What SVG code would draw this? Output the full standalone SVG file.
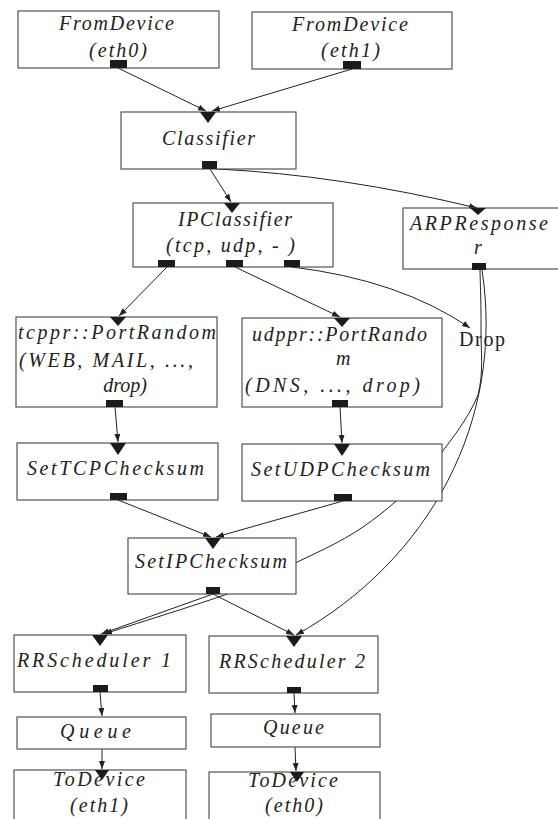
<svg xmlns="http://www.w3.org/2000/svg" width="558" height="819" viewBox="0 0 558 819">
<style>
.box{fill:#fff;stroke:#444;stroke-width:1.1}
.port{fill:#1e1a1a}
.in{fill:#1e1a1a}
.lbl{font-family:"Liberation Serif","Times New Roman",serif;font-style:italic;font-size:20px;fill:#222}
.up{font-family:"Liberation Serif","Times New Roman",serif;font-size:20px;fill:#222}
.edge{fill:none;stroke:#222;stroke-width:1}
</style>
<defs>
<marker id="arr" markerUnits="userSpaceOnUse" markerWidth="9" markerHeight="7" refX="8" refY="3" orient="auto">
<path d="M0,0 L8,3 L0,6 z" fill="#222"/>
</marker>
</defs>
<g id="connectors">
<path class="edge" marker-end="url(#arr)" d="M118,68 L206,111"/>
<path class="edge" marker-end="url(#arr)" d="M352,69 L212,111"/>
<path class="edge" marker-end="url(#arr)" d="M210,169 L231,202"/>
<path class="edge" marker-end="url(#arr)" d="M217,169 Q340,175 477,208"/>
<path class="edge" marker-end="url(#arr)" d="M167,267 L119,316"/>
<path class="edge" marker-end="url(#arr)" d="M235,267 L340,317"/>
<path class="edge" marker-end="url(#arr)" d="M292,267 Q400,280 470,328"/>
<path class="edge" marker-end="url(#arr)" d="M115,407 L118,442"/>
<path class="edge" marker-end="url(#arr)" d="M340,407 L342,443"/>
<path class="edge" marker-end="url(#arr)" d="M118,500 L211,537"/>
<path class="edge" marker-end="url(#arr)" d="M343,501 L216,537"/>
<path class="edge" marker-end="url(#arr)" d="M213,594 L101,634"/>
<path class="edge" marker-end="url(#arr)" d="M213,594 L294,635"/>
<path class="edge" marker-end="url(#arr)" d="M480,270 C480.2,280 481.3,309 481,330 C480.7,351 484,372 478,395 C469,418 446,448 427,470 C408,492 386,511 363,527 C340,543 309,556 287,567 C265,578 260,582 230,593 C200,604 125,627 104,634"/>
<path class="edge" marker-end="url(#arr)" d="M482,270 C505,420 430,560 296,635"/>
<path class="edge" marker-end="url(#arr)" d="M100,692 L102,716"/>
<path class="edge" marker-end="url(#arr)" d="M294,693 L295,713"/>
<path class="edge" marker-end="url(#arr)" d="M102,749 L102,769"/>
<path class="edge" marker-end="url(#arr)" d="M295,747 L296,771"/>
</g>
<g id="fromdevice0">
<rect class="box" x="18" y="11" width="201" height="57"/>
<text class="lbl" x="59" y="30" textLength="115" lengthAdjust="spacing">FromDevice</text>
<text class="lbl" x="89" y="57" textLength="58" lengthAdjust="spacing">(eth0)</text>
<rect class="port" x="110" y="60" width="17" height="8"/>
</g>
<g id="fromdevice1">
<rect class="box" x="252" y="12" width="200" height="57"/>
<text class="lbl" x="292" y="31" textLength="116" lengthAdjust="spacing">FromDevice</text>
<text class="lbl" x="321" y="57" textLength="59" lengthAdjust="spacing">(eth1)</text>
<rect class="port" x="343" y="61" width="18" height="8"/>
</g>
<g id="classifier">
<rect class="box" x="121" y="112" width="175" height="57"/>
<polygon class="in" points="200,112 216,112 208,123"/>
<text class="lbl" x="162" y="145" textLength="93" lengthAdjust="spacing">Classifier</text>
<rect class="port" x="202" y="161" width="15" height="8"/>
</g>
<g id="ipclassifier">
<rect class="box" x="133" y="203" width="200" height="64"/>
<polygon class="in" points="224,203 240,203 232,213"/>
<text class="lbl" x="178" y="226" textLength="114" lengthAdjust="spacing">IPClassifier</text>
<text class="lbl" x="166" y="252" textLength="129" lengthAdjust="spacing">(tcp, udp, - )</text>
<rect class="port" x="158" y="260" width="17" height="7"/>
<rect class="port" x="226" y="260" width="17" height="7"/>
<rect class="port" x="284" y="260" width="16" height="7"/>
</g>
<g id="arpresponser">
<rect class="box" x="403" y="208" width="156" height="61"/>
<polygon class="in" points="470,208 486,208 478,215"/>
<text class="lbl" x="410" y="230" textLength="138" lengthAdjust="spacing">ARPResponse</text>
<text class="lbl" x="474" y="254">r</text>
<rect class="port" x="472" y="263" width="14" height="7"/>
</g>
<g id="tcppr">
<rect class="box" x="16" y="317" width="201" height="90"/>
<polygon class="in" points="110,317 126,317 118,326"/>
<text class="lbl" x="18" y="339" textLength="198" lengthAdjust="spacing">tcppr::PortRandom</text>
<text class="lbl" x="19" y="367" textLength="174" lengthAdjust="spacing">(WEB, MAIL, ...,</text>
<text class="lbl" x="125" y="392" text-anchor="middle">drop)</text>
<rect class="port" x="106" y="400" width="17" height="7"/>
</g>
<g id="udppr">
<rect class="box" x="242" y="318" width="200" height="89"/>
<polygon class="in" points="334,318 350,318 342,327"/>
<text class="lbl" x="252" y="341" textLength="175" lengthAdjust="spacing">udppr::PortRando</text>
<text class="lbl" x="336" y="365">m</text>
<text class="lbl" x="245" y="392" textLength="175" lengthAdjust="spacing">(DNS, ..., drop)</text>
<rect class="port" x="332" y="400" width="16" height="7"/>
</g>
<g id="drop">
<text class="up" x="459" y="346" textLength="46" lengthAdjust="spacing">Drop</text>
</g>
<g id="settcpchecksum">
<rect class="box" x="17" y="443" width="201" height="57"/>
<polygon class="in" points="110,443 126,443 118,455"/>
<text class="lbl" x="27" y="475" textLength="177" lengthAdjust="spacing">SetTCPChecksum</text>
<rect class="port" x="110" y="493" width="17" height="7"/>
</g>
<g id="setudpchecksum">
<rect class="box" x="242" y="444" width="200" height="57"/>
<polygon class="in" points="334,444 350,444 342,456"/>
<text class="lbl" x="251" y="476" textLength="179" lengthAdjust="spacing">SetUDPChecksum</text>
<rect class="port" x="334" y="494" width="18" height="7"/>
</g>
<g id="setipchecksum">
<rect class="box" x="128" y="538" width="168" height="56"/>
<polygon class="in" points="205,538 221,538 213,549"/>
<text class="lbl" x="135" y="568" textLength="152" lengthAdjust="spacing">SetIPChecksum</text>
<rect class="port" x="206" y="587" width="14" height="7"/>
</g>
<g id="rrscheduler1">
<rect class="box" x="14" y="635" width="172" height="57"/>
<polygon class="in" points="92,635 108,635 100,646"/>
<text class="lbl" x="17" y="667" textLength="154" lengthAdjust="spacing">RRScheduler 1</text>
<rect class="port" x="93" y="685" width="15" height="7"/>
</g>
<g id="rrscheduler2">
<rect class="box" x="209" y="636" width="169" height="57"/>
<polygon class="in" points="286,636 302,636 294,647"/>
<text class="lbl" x="219" y="668" textLength="146" lengthAdjust="spacing">RRScheduler 2</text>
<rect class="port" x="287" y="687" width="14" height="6"/>
</g>
<g id="queue1">
<rect class="box" x="17" y="717" width="169" height="32"/>
<text class="lbl" x="60" y="738" textLength="71" lengthAdjust="spacing">Queue</text>
</g>
<g id="queue2">
<rect class="box" x="211" y="714" width="169" height="33"/>
<text class="lbl" x="263" y="734" textLength="61" lengthAdjust="spacing">Queue</text>
</g>
<g id="todevice1">
<rect class="box" x="14" y="770" width="172" height="60"/>
<polygon class="in" points="95,770 109,770 102,780"/>
<text class="lbl" x="53" y="786" textLength="92" lengthAdjust="spacing">ToDevice</text>
<text class="lbl" x="70" y="812" textLength="58" lengthAdjust="spacing">(eth1)</text>
</g>
<g id="todevice0">
<rect class="box" x="209" y="772" width="171" height="60"/>
<polygon class="in" points="290,772 304,772 297,782"/>
<text class="lbl" x="248" y="787" textLength="90" lengthAdjust="spacing">ToDevice</text>
<text class="lbl" x="265" y="812" textLength="58" lengthAdjust="spacing">(eth0)</text>
</g>
</svg>
